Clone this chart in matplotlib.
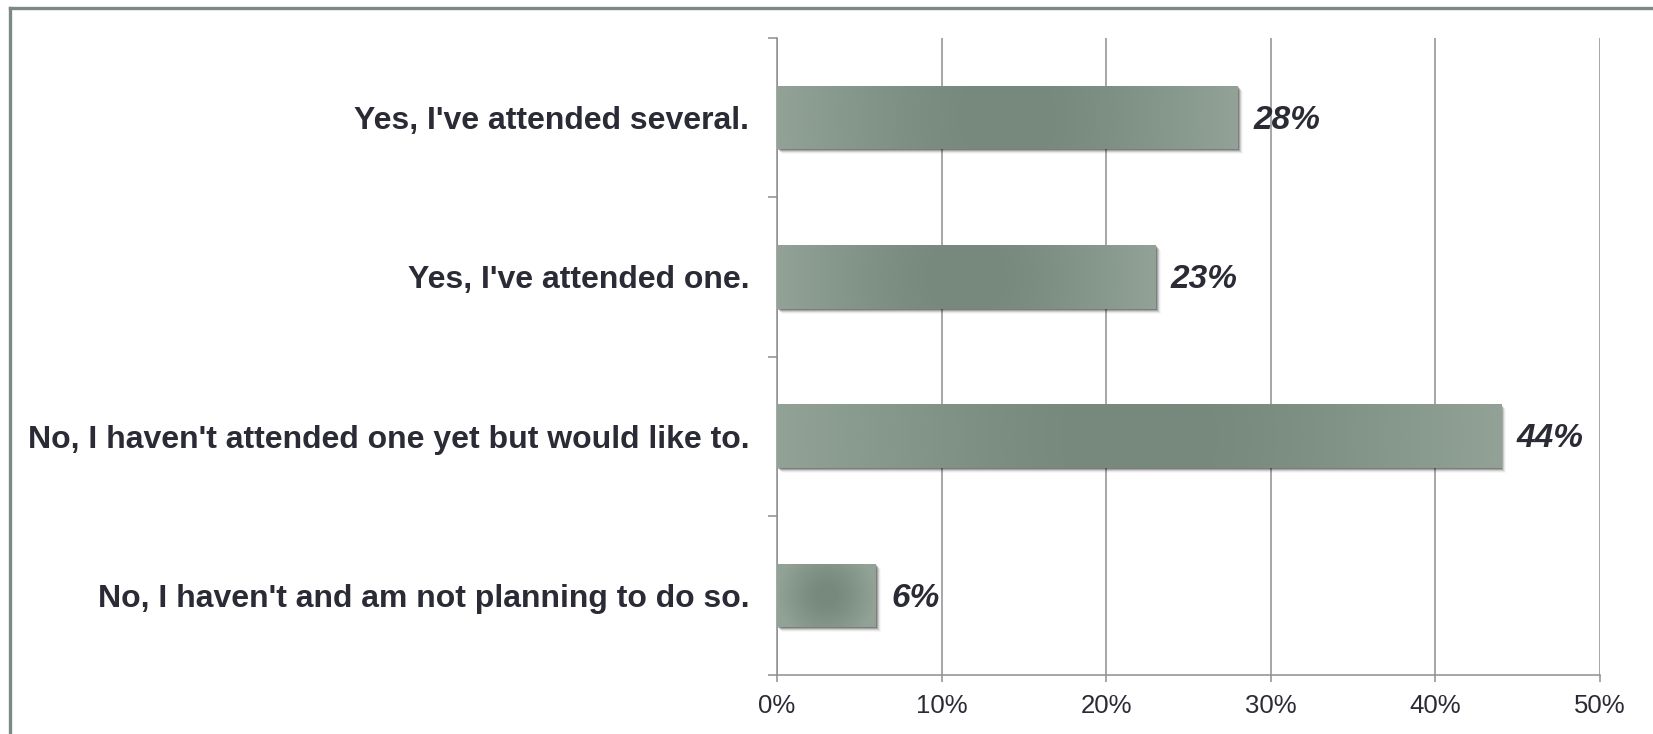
"""
Horizontal bar chart: attendance survey responses
"""

import numpy as np
import matplotlib

matplotlib.use("Agg")
import matplotlib.pyplot as plt
from matplotlib.patches import Rectangle
from matplotlib.lines import Line2D
import matplotlib.transforms as mtransforms

plt.rcParams["font.family"] = ["Liberation Sans", "DejaVu Sans"]

# Survey data (top to bottom)
categories = [
    "Yes, I've attended several.",
    "Yes, I've attended one.",
    "No, I haven't attended one yet but would like to.",
    "No, I haven't and am not planning to do so.",
]
percentages = [28, 23, 44, 6]
x_ticks = [0, 10, 20, 30, 40, 50]
x_tick_labels = ["0%", "10%", "20%", "30%", "40%", "50%"]

TEXT_COLOR = "#2b2b36"
GRID_COLOR = "#8e8e8e"
EDGE_COLOR = np.array([146, 162, 151]) / 255.0
CENTER_COLOR = np.array([119, 137, 125]) / 255.0
BAR_HEIGHT = 0.4

W, H, DPI = 1653, 734, 100
fig = plt.figure(figsize=(W / DPI, H / DPI), dpi=DPI)
fig.patch.set_facecolor("white")

ax = fig.add_axes([777 / W, 1 - 675 / H, (1600 - 777) / W, (675 - 38) / H])
ax.set_xlim(0, 50)
ax.set_ylim(len(categories) - 0.5, -0.5)

# pixels per data unit, used to shape the gradient
px_per_x = (1600 - 777) / 50
px_per_y = (675 - 38) / len(categories)

for i, val in enumerate(percentages):
    x0, y0 = 0, i - BAR_HEIGHT / 2

    # soft drop shadow to the lower right
    for k, a in [(1, 0.24), (2, 0.18), (3, 0.12), (4, 0.06), (5, 0.03)]:
        off = mtransforms.ScaledTranslation(k / DPI, -k / DPI, fig.dpi_scale_trans)
        ax.add_patch(
            Rectangle((x0, y0), val, BAR_HEIGHT, facecolor="black", alpha=a,
                      edgecolor="none", transform=ax.transData + off, zorder=2)
        )

    # radial gradient: dark centre, lighter edges
    w_px = val * px_per_x
    h_px = BAR_HEIGHT * px_per_y
    nx, ny = max(int(w_px), 2), max(int(h_px), 2)
    gx = np.linspace(-w_px / 2, w_px / 2, nx)
    gy = np.linspace(-h_px / 2, h_px / 2, ny)
    XX, YY = np.meshgrid(gx, gy)
    r = np.clip(np.sqrt(XX ** 2 + YY ** 2) / (max(w_px, h_px) / 2), 0, 1)
    t = np.clip((r - 0.15) / 0.85, 0, 1) ** 1.3
    img = CENTER_COLOR[None, None, :] * (1 - t[..., None]) + EDGE_COLOR[None, None, :] * t[..., None]

    bar = Rectangle((x0, y0), val, BAR_HEIGHT, facecolor="none", edgecolor="none", zorder=3)
    ax.add_patch(bar)
    im = ax.imshow(img, extent=(x0, x0 + val, y0 + BAR_HEIGHT, y0), aspect="auto",
                   interpolation="bilinear", zorder=3)
    im.set_clip_path(bar)

    ax.annotate(f"{val}%", xy=(val, i), xytext=(11, -2), textcoords="offset points",
                ha="left", va="center", fontsize=24, fontweight="bold",
                fontstyle="italic", color=TEXT_COLOR, zorder=4)

ax.set_xlim(0, 50)
ax.set_ylim(len(categories) - 0.5, -0.5)

# Axes styling
ax.set_xticks(x_ticks)
ax.set_xticklabels(x_tick_labels, fontsize=18.5, color=TEXT_COLOR)
ax.set_yticks(range(len(categories)))
ax.set_yticklabels(categories, fontsize=23, fontweight="bold", color=TEXT_COLOR)
ax.set_yticks(np.arange(-0.5, len(categories)), minor=True)

ax.tick_params(axis="y", which="major", length=0, pad=20)
ax.tick_params(axis="y", which="minor", length=6.5, width=1.1, color=GRID_COLOR, direction="out")
ax.tick_params(axis="x", which="major", length=5, width=1.1, color=GRID_COLOR, pad=9)

ax.grid(axis="x", color=GRID_COLOR, linewidth=1.1, zorder=1)
ax.set_axisbelow(True)
for side in ["top", "right"]:
    ax.spines[side].set_visible(False)
for side in ["left", "bottom"]:
    ax.spines[side].set_color(GRID_COLOR)
    ax.spines[side].set_linewidth(1.1)

# Outer frame line on left and top
frame_color = "#7b8b81"
fx = 10 / W
fy = 1 - 8 / H
fig.add_artist(Line2D([fx, 1.0], [fy, fy], transform=fig.transFigure, color=frame_color, linewidth=2.4))
fig.add_artist(Line2D([fx, fx], [0.0, fy], transform=fig.transFigure, color=frame_color, linewidth=2.4))

fig.savefig("out.png", dpi=DPI)
